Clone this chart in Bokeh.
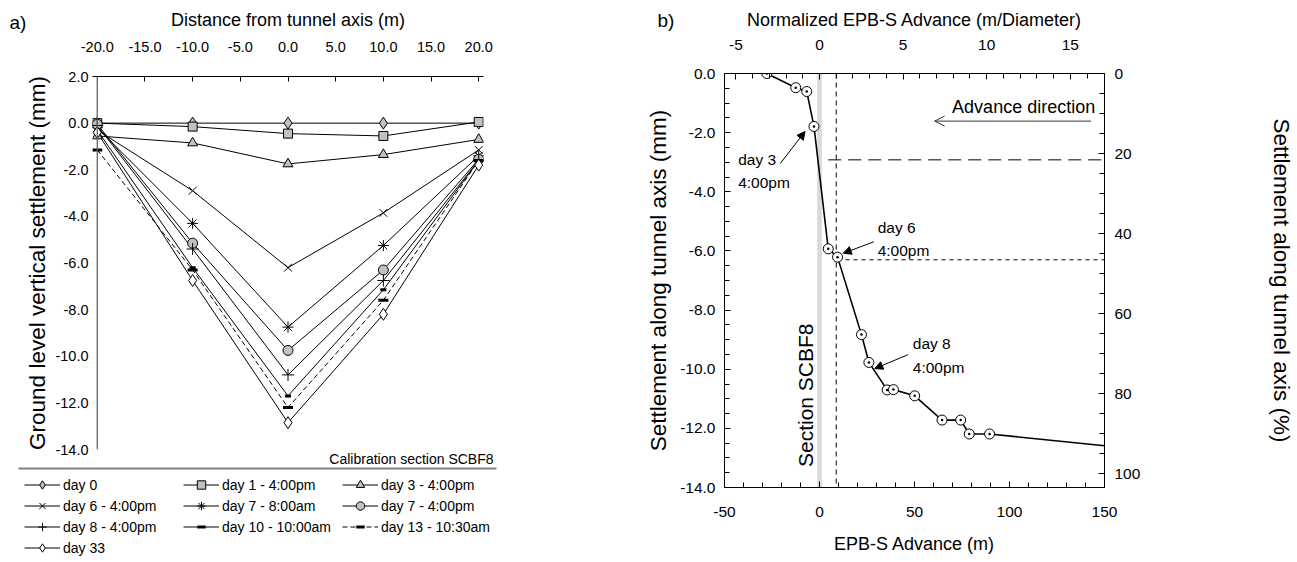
import math
import numpy as np
from bokeh.plotting import figure
from bokeh.models import (ColumnDataSource, Range1d, LinearAxis, FixedTicker, GridBox,
                          PrintfTickFormatter, Label, Legend, LegendItem, Span,
                          Arrow, NormalHead, OpenHead, BoxAnnotation)
from bokeh.embed import file_html
from bokeh.resources import INLINE

FONT = "Liberation Sans"

# ---------------- panel a data ----------------
distance_m = [-20, -10, 0, 10, 20]
series_names = ["day 0", "day 1 - 4:00pm", "day 3 - 4:00pm", "day 6 - 4:00pm",
                "day 7 - 8:00am", "day 7 - 4:00pm", "day 8 - 4:00pm",
                "day 10 - 10:00am", "day 13 - 10:30am", "day 33"]
settle_day0 = [0.0, 0.0, 0.0, 0.0, 0.0]
settle_day1 = [0.0, -0.15, -0.45, -0.55, 0.05]
settle_day3 = [-0.55, -0.85, -1.75, -1.35, -0.7]
settle_day6 = [-0.3, -2.9, -6.2, -3.85, -1.15]
settle_day7am = [-0.2, -4.3, -8.75, -5.25, -1.4]
settle_day7pm = [-0.05, -5.15, -9.75, -6.3, -1.55]
settle_day8 = [-0.1, -5.4, -10.8, -6.75, -1.6]
settle_day10 = [-0.3, -6.2, -11.7, -7.15, -1.6]
settle_day13 = [-1.15, -6.3, -12.2, -7.6, -1.6]
settle_day33 = [-0.4, -6.75, -12.85, -8.2, -1.8]
a_ticks_x = [-20, -15, -10, -5, 0, 5, 10, 15, 20]
a_ticks_y = [-14, -12, -10, -8, -6, -4, -2, 0, 2]

# ---------------- panel b data ----------------
advance_m = [-27.7, -12.5, -6.7, -2.9, 4.6, 9.5, 22.1, 26.0, 35.6, 38.9,
             50.1, 64.5, 74.3, 78.8, 89.5]
settle_axis_mm = [0.0, -0.48, -0.61, -1.79, -5.93, -6.21, -8.83, -9.77, -10.70,
                  -10.69, -10.90, -11.72, -11.72, -12.19, -12.19]
tail_advance_m = [89.5, 150.0]
tail_settle_mm = [-12.19, -12.59]
tunnel_diameter_m = 8.8
final_settlement_mm = 13.54
section_band_m = [-1.2, 1.2]
ref_v_x = [tunnel_diameter_m, tunnel_diameter_m]
ref_v_y = [0.0, -14.0]
ref_h1_x = [4.6, 150.0]
ref_h1_y = [-2.92, -2.92]
ref_h2_x = [9.5, 150.0]
ref_h2_y = [-6.3, -6.3]
note_text = ["day 3", "4:00pm", "day 6", "4:00pm", "day 8", "4:00pm"]
note_x = [-42.8, -42.8, 30.6, 30.6, 49.1, 49.1]
note_y = [-2.91, -3.69, -5.2, -5.99, -9.14, -9.94]
arrow_x0 = [-20.7, 28.6, 46.5]
arrow_y0 = [-3.05, -5.69, -9.51]
arrow_x1 = [-7.6, 12.5, 29.1]
arrow_y1 = [-1.96, -6.08, -9.98]
b_ticks_x = [-50, 0, 50, 100, 150]
b_ticks_norm = [-5, 0, 5, 10, 15]
b_ticks_y = [-14, -12, -10, -8, -6, -4, -2, 0]
b_ticks_pct = [0, 20, 40, 60, 80, 100]

# page-level decorations (page pixels): panel letters, caption, legend rule
panel_letters = ["a)", "b)"]
panel_letter_x = [9, 657]
panel_letter_y = [22, 20]
caption_text = "Calibration section SCBF8"
caption_xy = (493, 458)
legend_rule_x = [18, 496]
legend_rule_y = [468, 468]

series_values = [settle_day0, settle_day1, settle_day3, settle_day6, settle_day7am,
                 settle_day7pm, settle_day8, settle_day10, settle_day13, settle_day33]
# marker, size, fill, dash, marker line width
styles = [("diamond", 12, "#c0c0c0", "solid", 1),
          ("square", 9, "#c0c0c0", "solid", 1),
          ("triangle", 10, "#c0c0c0", "solid", 1),
          ("x", 11, None, "solid", 1),
          ("asterisk", 11, None, "solid", 1),
          ("circle", 10, "#c0c0c0", "solid", 1),
          ("cross", 12, None, "solid", 1),
          ("dash", 6, None, "solid", 3),
          ("dash", 10, None, "5 3", 3),
          ("diamond", 12, "white", "solid", 1)]

W, H = 1297, 560


def style_axis(ax, tick_size, label_size):
    ax.major_label_text_font = FONT
    ax.major_label_text_font_size = tick_size
    ax.major_label_text_color = "black"
    ax.axis_label_text_font = FONT
    ax.axis_label_text_font_size = label_size
    ax.axis_label_text_font_style = "normal"
    ax.axis_label_text_color = "black"
    ax.axis_line_color = "black"
    ax.major_tick_line_color = "black"
    ax.minor_tick_line_color = "black"


# ================= panel a =================
pa = figure(width=638, height=H, x_range=Range1d(-20.5, 20.5), y_range=Range1d(-14, 2),
            x_axis_location="above", y_axis_location="left",
            output_backend="svg", toolbar_location=None,
            min_border_left=92, min_border_right=155, min_border_top=76,
            min_border_bottom=H - 76 - 373)
pa.frame_align = False
pa.outline_line_color = None
pa.grid.visible = False

xa = pa.xaxis[0]
style_axis(xa, "14.5px", "18px")
xa.axis_label = "Distance from tunnel axis (m)"
xa.ticker = FixedTicker(ticks=a_ticks_x)
xa.formatter = PrintfTickFormatter(format="%.1f")
xa.major_tick_in = 5
xa.major_tick_out = 0
xa.minor_tick_in = 0
xa.minor_tick_out = 0
xa.major_label_standoff = 25
xa.axis_label_standoff = 9

ya = pa.yaxis[0]
style_axis(ya, "14.5px", "22.5px")
ya.axis_label = "Ground level vertical settlement (mm)"
ya.ticker = FixedTicker(ticks=a_ticks_y)
ya.formatter = PrintfTickFormatter(format="%.1f")
ya.major_tick_in = 0
ya.major_tick_out = 0
ya.minor_tick_in = 0
ya.minor_tick_out = 0
ya.axis_line_color = None
ya.major_label_standoff = 4
ya.axis_label_standoff = 2

pa.add_layout(Span(location=a_ticks_x[0], dimension="height", line_color="#666666", line_width=1.3))

sources = []
for vals, (mk, sz, fill, dash, mlw) in zip(series_values, styles):
    src = ColumnDataSource(dict(x=distance_m, y=vals))
    sources.append(src)
    pa.line("x", "y", source=src, line_color="black", line_width=1, line_dash=dash)
for src, (mk, sz, fill, dash, mlw) in zip(sources, styles):
    pa.scatter("x", "y", source=src, marker=mk, size=sz,
               fill_color=fill if fill else "black", line_color="black", line_width=mlw)

# ================= panel b =================
pb = figure(width=659, height=H, x_range=Range1d(-50, 150), y_range=Range1d(-14, 0),
            output_backend="svg", toolbar_location=None,
            min_border_left=86, min_border_right=192, min_border_top=73,
            min_border_bottom=H - 73 - 414)
pb.frame_align = False
pb.outline_line_color = None
pb.grid.visible = False
pb.extra_x_ranges = {"norm": Range1d(-50 / tunnel_diameter_m, 150 / tunnel_diameter_m)}
pb.extra_y_ranges = {"pct": Range1d(14 / final_settlement_mm * 100, 0)}

bx = pb.xaxis[0]
style_axis(bx, "15.5px", "18px")
bx.axis_label = "EPB-S Advance (m)"
bx.ticker = FixedTicker(ticks=b_ticks_x, minor_ticks=list(np.arange(-50, 151, 10)))
bx.formatter = PrintfTickFormatter(format="%d")
bx.major_tick_in, bx.major_tick_out, bx.minor_tick_in, bx.minor_tick_out = 6, 0, 5, 0
bx.major_label_standoff = 19
bx.axis_label_standoff = 14

tx = LinearAxis(x_range_name="norm")
style_axis(tx, "15.5px", "18px")
tx.axis_label = "Normalized EPB-S Advance (m/Diameter)"
tx.ticker = FixedTicker(ticks=b_ticks_norm, minor_ticks=list(np.arange(-5, 17, 1)))
tx.formatter = PrintfTickFormatter(format="%d")
tx.major_tick_in, tx.major_tick_out, tx.minor_tick_in, tx.minor_tick_out = 6, 0, 5, 0
tx.major_label_standoff = 24
tx.axis_label_standoff = 7
pb.add_layout(tx, "above")

by = pb.yaxis[0]
style_axis(by, "15.5px", "22.5px")
by.axis_label = "Settlement along tunnel axis (mm)"
by.ticker = FixedTicker(ticks=b_ticks_y, minor_ticks=list(np.arange(-14, 0.01, 0.5)))
by.formatter = PrintfTickFormatter(format="%.1f")
by.major_tick_in, by.major_tick_out, by.minor_tick_in, by.minor_tick_out = 6, 0, 5, 0
by.major_label_standoff = 9
by.axis_label_standoff = 6

ry = LinearAxis(y_range_name="pct")
style_axis(ry, "15.5px", "22.5px")
ry.axis_label = "Settlement along tunnel axis (%)"
ry.ticker = FixedTicker(ticks=b_ticks_pct, minor_ticks=list(np.arange(0, 101, 5)))
ry.formatter = PrintfTickFormatter(format="%d")
ry.major_tick_in, ry.major_tick_out, ry.minor_tick_in, ry.minor_tick_out = 6, 0, 5, 0
ry.major_label_standoff = 10
ry.axis_label_standoff = 126
pb.add_layout(ry, "right")

pb.add_layout(BoxAnnotation(left=section_band_m[0], right=section_band_m[1], fill_color="#d9d9d9",
                            fill_alpha=1.0, line_color=None, level="underlay"))
pb.line(ref_v_x, ref_v_y, line_color="black", line_width=1, line_dash="5 4")
pb.line(ref_h1_x, ref_h1_y, line_color="black", line_width=1, line_dash="13 7")
pb.line(ref_h2_x, ref_h2_y, line_color="black", line_width=1, line_dash="4 4")

pb.line(tail_advance_m, tail_settle_mm, line_color="black", line_width=1.6)
pb.line(advance_m, settle_axis_mm, line_color="black", line_width=1.6)
pb.scatter(advance_m, settle_axis_mm, marker="circle_dot", size=10, fill_color="white",
           line_color="black", line_width=1)

for t, x, y in zip(note_text, note_x, note_y):
    pb.add_layout(Label(x=x, y=y, text=t, text_align="left", text_baseline="middle",
                        text_font=FONT, text_font_size="15.5px", text_color="black"))
for x0, y0, x1, y1 in zip(arrow_x0, arrow_y0, arrow_x1, arrow_y1):
    pb.add_layout(Arrow(end=NormalHead(size=8, fill_color="black", line_color="black", line_width=1),
                        x_start=x0, y_start=y0, x_end=x1, y_end=y1,
                        line_color="black", line_width=1))

pb.add_layout(Label(x=145.1, y=-1.12, text="Advance direction", text_align="right",
                    text_baseline="middle", text_font=FONT, text_font_size="18px",
                    text_color="black"))
pb.add_layout(Arrow(end=OpenHead(size=10, line_color="#333333", line_width=1),
                    x_start=142.9, y_start=-1.61, x_end=60.6, y_end=-1.61,
                    line_color="#333333", line_width=1))
pb.add_layout(Label(x=-7.6, y=-10.88, text="Section SCBF8", angle=math.pi / 2,
                    text_align="center", text_baseline="middle", text_font=FONT,
                    text_font_size="21px", text_color="black"))

# ================= transparent page overlay: letters, caption, legend =================
ov = figure(width=W, height=H, x_range=Range1d(0, W), y_range=Range1d(H, 0),
            x_axis_location=None, y_axis_location=None,
            output_backend="svg", toolbar_location=None,
            min_border_left=0, min_border_right=0, min_border_top=0, min_border_bottom=0)
ov.frame_align = False
ov.outline_line_color = None
ov.background_fill_color = None
ov.border_fill_color = None
ov.grid.visible = False
ov.extra_x_ranges = {"hide": Range1d(100000, 100001)}

for t, x, y in zip(panel_letters, panel_letter_x, panel_letter_y):
    ov.add_layout(Label(x=x, y=y, text=t, text_align="left", text_baseline="middle",
                        text_font=FONT, text_font_size="19px", text_color="black"))
ov.add_layout(Label(x=caption_xy[0], y=caption_xy[1], text=caption_text, text_align="right",
                    text_baseline="middle", text_font=FONT, text_font_size="14px",
                    text_color="black"))
ov.line(legend_rule_x, legend_rule_y, line_color="#808080", line_width=2)

items = []
for name, src, (mk, sz, fill, dash, mlw) in zip(series_names, sources, styles):
    lr = ov.line("x", "y", source=src, x_range_name="hide", line_color="black",
                 line_width=1, line_dash=dash)
    sr = ov.scatter("x", "y", source=src, x_range_name="hide", marker=mk, size=sz,
                    fill_color=fill if fill else "black", line_color="black", line_width=mlw)
    items.append(LegendItem(label=name, renderers=[lr, sr]))
legend = Legend(items=items, location=(24, 2), orientation="horizontal", ncols=3,
                glyph_width=36, glyph_height=21, label_height=21, label_width=120,
                label_standoff=3, spacing=0, padding=0, margin=0,
                border_line_color=None, background_fill_alpha=0,
                label_text_font=FONT, label_text_font_size="14px", label_text_color="black")
ov.add_layout(legend)

layout = GridBox(children=[(pa, 0, 0), (pb, 0, 1), (ov, 0, 0, 1, 2)])
open("out.html", "w").write(file_html(layout, INLINE))
